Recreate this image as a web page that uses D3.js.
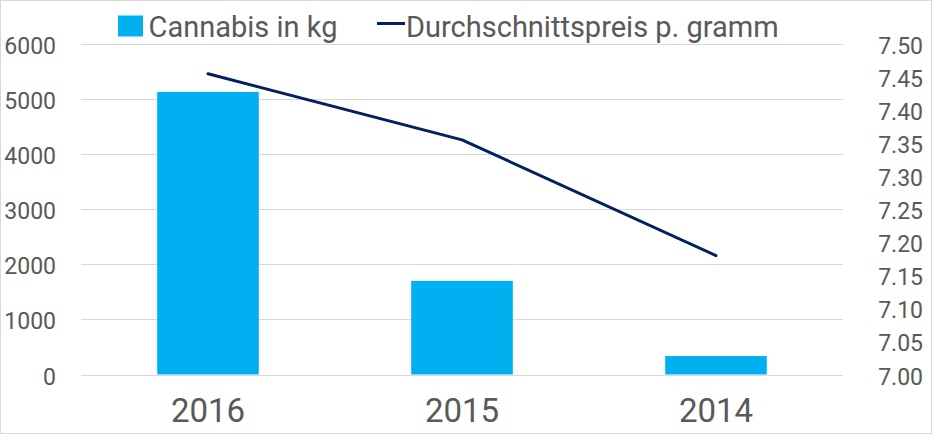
<!DOCTYPE html>
<html>
<head>
<meta charset="utf-8">
<script src="https://cdn.jsdelivr.net/npm/d3@7"></script>
<style>
  html, body { margin: 0; padding: 0; background: #fff; }
  svg { display: block; font-family: Roboto, "Liberation Sans", sans-serif; }
</style>
</head>
<body>
<svg id="chart" width="932" height="434"></svg>
<script>
// ---- data ----
const years = ["2016", "2015", "2014"];
const cannabisKg = [5130, 1700, 335];
const pricePerGram = [7.455, 7.355, 7.18];
const leftTicks = [0, 1000, 2000, 3000, 4000, 5000, 6000];
const rightTicks = [7.00, 7.05, 7.10, 7.15, 7.20, 7.25, 7.30, 7.35, 7.40, 7.45, 7.50];
const seriesNames = ["Cannabis in kg", "Durchschnittspreis p. gramm"];

// ---- styles ----
const W = 932, H = 434;
const plot = { left: 81, right: 843, top: 44, bottom: 374.5 };
const barColor = "#00B0F0";
const lineColor = "#002060";
const textColor = "#595959";
const gridColor = "#D9D9D9";

const svg = d3.select("#chart");

// border
svg.append("rect")
  .attr("x", 0.5).attr("y", 0.5)
  .attr("width", W - 1).attr("height", H - 1)
  .attr("fill", "none").attr("stroke", gridColor).attr("stroke-width", 1);

const x = d3.scaleBand()
  .domain(years)
  .range([plot.left, plot.right])
  .paddingInner(0.6)
  .paddingOuter(0.3);

const yL = d3.scaleLinear().domain([0, 6000]).range([plot.bottom, plot.top]);
const yR = d3.scaleLinear().domain([7.0, 7.5]).range([plot.bottom, plot.top]);

// gridlines
const grid = svg.append("g").attr("class", "grid");
grid.selectAll("line")
  .data(leftTicks)
  .join("line")
  .attr("x1", plot.left).attr("x2", plot.right)
  .attr("y1", d => Math.round(yL(d)) + 0.5)
  .attr("y2", d => Math.round(yL(d)) + 0.5)
  .attr("stroke", gridColor).attr("stroke-width", 1);

// left axis (labels only)
const axL = d3.axisLeft(yL).tickValues(leftTicks).tickSize(0).tickPadding(0)
  .tickFormat(d3.format("d"));
const gL = svg.append("g").attr("transform", "translate(56,0)").call(axL);
gL.select(".domain").remove();
gL.selectAll("text")
  .attr("fill", textColor)
  .attr("font-size", 23)
  .attr("font-family", "Roboto, sans-serif")
  .attr("dy", null)
  .attr("y", 9.5)
  .attr("text-anchor", "end");

// right axis
const axR = d3.axisRight(yR).tickValues(rightTicks).tickSize(0).tickPadding(0)
  .tickFormat(d3.format(".2f"));
const gR = svg.append("g").attr("transform", "translate(923,0)").call(axR);
gR.select(".domain").remove();
gR.selectAll("text")
  .attr("fill", textColor)
  .attr("font-size", 23)
  .attr("font-family", "Roboto, sans-serif")
  .attr("dy", null)
  .attr("x", 0)
  .attr("y", 9.5)
  .attr("text-anchor", "end");

// bottom axis
const axB = d3.axisBottom(x).tickSize(0).tickPadding(0);
const gB = svg.append("g").attr("transform", "translate(0,0)").call(axB);
gB.select(".domain").remove();
gB.selectAll("text")
  .attr("fill", textColor)
  .attr("font-size", 33)
  .attr("font-family", "Roboto, sans-serif")
  .attr("dy", null)
  .attr("y", 422)
  .attr("text-anchor", "middle");

// bars
svg.append("g").selectAll("rect")
  .data(years.map((y, i) => ({ year: y, v: cannabisKg[i] })))
  .join("rect")
  .attr("x", d => x(d.year))
  .attr("width", x.bandwidth())
  .attr("y", d => yL(d.v))
  .attr("height", d => yL(0) - yL(d.v))
  .attr("fill", barColor);

// line
const lineGen = d3.line()
  .x(d => x(d.year) + x.bandwidth() / 2)
  .y(d => yR(d.v));
svg.append("path")
  .datum(years.map((y, i) => ({ year: y, v: pricePerGram[i] })))
  .attr("d", lineGen)
  .attr("fill", "none")
  .attr("stroke", lineColor)
  .attr("stroke-width", 3)
  .attr("stroke-linejoin", "round")
  .attr("stroke-linecap", "round");

// legend
const leg = svg.append("g").attr("class", "legend");
leg.append("rect")
  .attr("x", 118).attr("y", 15.5).attr("width", 25).attr("height", 21)
  .attr("fill", barColor);
leg.append("text")
  .attr("x", 148.5).attr("y", 37)
  .attr("font-size", 29).attr("fill", textColor)
  .text(seriesNames[0]);
leg.append("line")
  .attr("x1", 377).attr("x2", 405).attr("y1", 23.5).attr("y2", 23.5)
  .attr("stroke", lineColor).attr("stroke-width", 3);
leg.append("text")
  .attr("x", 406).attr("y", 37)
  .attr("font-size", 29).attr("fill", textColor)
  .text(seriesNames[1]);
</script>
</body>
</html>
